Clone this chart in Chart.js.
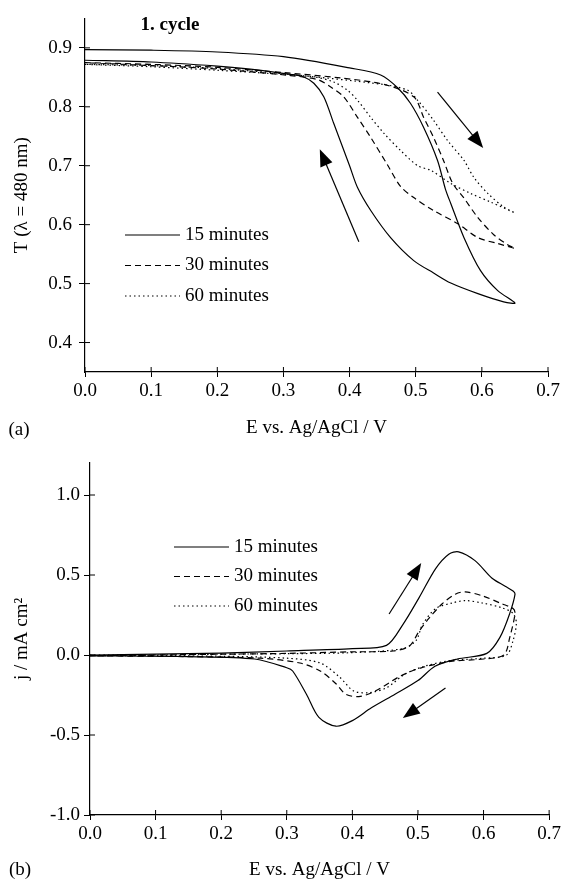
<!DOCTYPE html>
<html>
<head>
<meta charset="utf-8">
<script src="https://cdn.jsdelivr.net/npm/chart.js@4.4.1/dist/chart.umd.min.js"></script>
<style>
html, body { margin: 0; padding: 0; background: #fff; }
#wrap { position: relative; width: 564px; height: 881px; }
canvas { position: absolute; left: 0; }
</style>
</head>
<body>
<div id="wrap">
    <canvas id="chartA" width="564" height="440" style="top:0px"></canvas>
    <canvas id="chartB" width="564" height="441" style="top:440px"></canvas>
</div>
<script>
// ---- data (a): transmission T vs potential E, one loop per series
var seriesNames = ['15 minutes', '30 minutes', '60 minutes'];

var eA15 = [0, 0.1, 0.2, 0.3, 0.4, 0.447, 0.473, 0.492, 0.512, 0.533, 0.545, 0.553, 0.573, 0.598, 0.624, 0.65,
            0.633, 0.594, 0.553, 0.527, 0.497, 0.462, 0.432, 0.412, 0.4, 0.376, 0.361, 0.346, 0.33, 0.311, 0.25, 0.2, 0.1, 0];
var tA15 = [0.897, 0.896, 0.893, 0.885, 0.866, 0.854, 0.832, 0.806, 0.765, 0.709, 0.66, 0.636, 0.578, 0.522, 0.488, 0.467,
            0.469, 0.483, 0.501, 0.518, 0.539, 0.578, 0.624, 0.663, 0.7, 0.772, 0.817, 0.84, 0.851, 0.855, 0.864, 0.869, 0.876, 0.879];

var eA30 = [0, 0.1, 0.2, 0.3, 0.386, 0.452, 0.497, 0.512, 0.527, 0.542, 0.556, 0.573, 0.594, 0.618, 0.639, 0.65,
            0.624, 0.594, 0.563, 0.527, 0.497, 0.477, 0.457, 0.432, 0.412, 0.391, 0.371, 0.352, 0.311, 0.2, 0.1, 0];
var tA30 = [0.875, 0.872, 0.867, 0.858, 0.849, 0.838, 0.817, 0.782, 0.748, 0.709, 0.67, 0.645, 0.612, 0.583, 0.566, 0.56,
            0.568, 0.578, 0.602, 0.624, 0.646, 0.665, 0.702, 0.748, 0.782, 0.817, 0.834, 0.846, 0.853, 0.864, 0.87, 0.875];

var eA60 = [0, 0.1, 0.2, 0.3, 0.45, 0.488, 0.503, 0.527, 0.548, 0.573, 0.588, 0.609, 0.633, 0.65,
            0.614, 0.583, 0.553, 0.523, 0.503, 0.477, 0.452, 0.432, 0.412, 0.397, 0.376, 0.35, 0.3, 0.2, 0.1, 0];
var tA60 = [0.872, 0.87, 0.865, 0.856, 0.838, 0.828, 0.811, 0.777, 0.743, 0.709, 0.68, 0.653, 0.63, 0.62,
            0.638, 0.653, 0.67, 0.692, 0.7, 0.726, 0.755, 0.782, 0.811, 0.828, 0.842, 0.85, 0.855, 0.862, 0.868, 0.872];

var xTicksA = [0, 0.1, 0.2, 0.3, 0.4, 0.5, 0.6, 0.7];
var yTicksA = [0.4, 0.5, 0.6, 0.7, 0.8, 0.9];

// ---- data (b): current density j vs potential E
var eB15 = [0, 0.1, 0.2, 0.3, 0.4, 0.452, 0.477, 0.502, 0.527, 0.547, 0.562, 0.587, 0.613, 0.633, 0.645, 0.648,
            0.64, 0.625, 0.605, 0.56, 0.526, 0.5, 0.465, 0.429, 0.4, 0.375, 0.349, 0.33, 0.309, 0.3, 0.251, 0.15, 0];
var jB15 = [0, 0.005, 0.012, 0.025, 0.04, 0.06, 0.19, 0.36, 0.54, 0.63, 0.645, 0.59, 0.48, 0.43, 0.4, 0.38,
            0.26, 0.11, 0.01, -0.025, -0.07, -0.16, -0.245, -0.33, -0.41, -0.445, -0.39, -0.245, -0.1, -0.08, -0.025, -0.01, -0.005];

var eB30 = [0, 0.1, 0.2, 0.3, 0.4, 0.462, 0.487, 0.502, 0.517, 0.537, 0.557, 0.572, 0.598, 0.628, 0.645, 0.648,
            0.64, 0.631, 0.6, 0.55, 0.505, 0.474, 0.435, 0.41, 0.39, 0.375, 0.351, 0.32, 0.26, 0.15, 0];
var jB30 = [-0.005, 0, 0.005, 0.01, 0.02, 0.025, 0.056, 0.15, 0.23, 0.32, 0.38, 0.395, 0.37, 0.32, 0.29, 0.26,
            0.11, 0, -0.025, -0.04, -0.08, -0.13, -0.225, -0.26, -0.245, -0.18, -0.1, -0.05, -0.02, -0.01, -0.005];

var eB60 = [0, 0.1, 0.2, 0.3, 0.4, 0.477, 0.497, 0.507, 0.527, 0.552, 0.572, 0.598, 0.628, 0.645, 0.65,
            0.645, 0.635, 0.6, 0.55, 0.51, 0.48, 0.452, 0.426, 0.402, 0.381, 0.351, 0.3, 0.2, 0];
var jB60 = [0, 0, 0.005, 0.008, 0.015, 0.04, 0.09, 0.19, 0.29, 0.325, 0.34, 0.325, 0.295, 0.26, 0.2,
            0.09, 0, -0.02, -0.035, -0.07, -0.12, -0.205, -0.235, -0.225, -0.14, -0.05, -0.02, -0.008, -0.003];

var xTicksB = [0, 0.1, 0.2, 0.3, 0.4, 0.5, 0.6, 0.7];
var yTicksB = [-1.0, -0.5, 0.0, 0.5, 1.0];

// scan direction arrows, [E tail, y tail, E head, y head]
var arrowsA = [[0.533, 0.825, 0.602, 0.730], [0.414, 0.571, 0.355, 0.728]];
var arrowsB = [[0.456, 0.256, 0.505, 0.575], [0.542, -0.206, 0.477, -0.394]];

var FONT = '"Liberation Serif", "Times New Roman", serif';
var dashes = [[], [6, 4], [1.5, 3]];

function pairUp(xs, ys) {
    return xs.map(function (x, i) { return { x: x, y: ys[i] }; });
}

function makeDatasets(list) {
    return list.map(function (d, i) {
        return {
            label: seriesNames[i],
            data: pairUp(d[0], d[1]),
            borderColor: '#000',
            borderWidth: 1.2,
            borderDash: dashes[i],
            pointRadius: 0,
            tension: 0.3,
            fill: false
        };
    });
}

// legend drawn as a short line sample plus label
var lineLegend = {
    id: 'lineLegend',
    afterDraw: function (chart, args, opts) {
        var ctx = chart.ctx;
        ctx.save();
        ctx.font = '19px ' + FONT;
        ctx.fillStyle = '#000';
        ctx.textBaseline = 'middle';
        chart.data.datasets.forEach(function (ds, i) {
            var y = opts.y + i * opts.gap;
            ctx.beginPath();
            ctx.setLineDash(ds.borderDash);
            ctx.lineWidth = 1.1;
            ctx.strokeStyle = '#000';
            ctx.moveTo(opts.x, y);
            ctx.lineTo(opts.x + opts.len, y);
            ctx.stroke();
            ctx.setLineDash([]);
            ctx.fillText(ds.label, opts.x + opts.len + 5, y);
        });
        ctx.restore();
    }
};

// arrows, inner tick halves and loose texts
var extras = {
    id: 'extras',
    afterDraw: function (chart, args, opts) {
        var ctx = chart.ctx;
        var xs = chart.scales.x, ys = chart.scales.y;
        ctx.save();
        ctx.strokeStyle = '#000';
        ctx.fillStyle = '#000';
        ctx.lineWidth = 1;
        // tick marks crossing into the plot
        xs.ticks.forEach(function (t) {
            var px = xs.getPixelForValue(t.value);
            ctx.beginPath(); ctx.moveTo(px, xs.top); ctx.lineTo(px, xs.top - 5); ctx.stroke();
        });
        ys.ticks.forEach(function (t) {
            var py = ys.getPixelForValue(t.value);
            ctx.beginPath(); ctx.moveTo(ys.right, py); ctx.lineTo(ys.right + 5, py); ctx.stroke();
        });
        opts.arrows.forEach(function (a) {
            var x1 = xs.getPixelForValue(a[0]), y1 = ys.getPixelForValue(a[1]);
            var x2 = xs.getPixelForValue(a[2]), y2 = ys.getPixelForValue(a[3]);
            var ang = Math.atan2(y2 - y1, x2 - x1);
            var hl = 17, hw = 6.5;
            ctx.lineWidth = 1.2;
            ctx.beginPath();
            ctx.moveTo(x1, y1);
            ctx.lineTo(x2 - Math.cos(ang) * hl * 0.8, y2 - Math.sin(ang) * hl * 0.8);
            ctx.stroke();
            ctx.beginPath();
            ctx.moveTo(x2, y2);
            ctx.lineTo(x2 - Math.cos(ang) * hl - Math.sin(ang) * hw, y2 - Math.sin(ang) * hl + Math.cos(ang) * hw);
            ctx.lineTo(x2 - Math.cos(ang) * hl + Math.sin(ang) * hw, y2 - Math.sin(ang) * hl - Math.cos(ang) * hw);
            ctx.closePath();
            ctx.fill();
        });
        opts.texts.forEach(function (t) {
            ctx.font = t.font;
            ctx.textAlign = 'center';
            ctx.textBaseline = 'middle';
            ctx.fillText(t.text, t.x, t.y);
        });
        ctx.restore();
    }
};

function axisX(ticks, yAxisWidth, xAxisHeight, titlePad) {
    return {
        type: 'linear',
        min: 0,
        max: 0.7,
        afterBuildTicks: function (s) { s.ticks = ticks.map(function (v) { return { value: v }; }); },
        afterFit: function (s) { s.height = xAxisHeight; },
        ticks: {
            color: '#000',
            font: { family: FONT, size: 19 },
            padding: 3,
            maxRotation: 0,
            callback: function (v) { return v.toFixed(1); }
        },
        grid: { drawOnChartArea: false, color: '#000', tickLength: 5, lineWidth: 1 },
        border: { color: '#000', width: 1.2 },
        title: {
            display: true,
            text: 'E vs. Ag/AgCl / V',
            color: '#000',
            font: { family: FONT, size: 19 },
            padding: { top: 0, bottom: titlePad }
        }
    };
}

function axisY(min, max, ticks, width, label, tickPad) {
    return {
        type: 'linear',
        min: min,
        max: max,
        afterBuildTicks: function (s) { s.ticks = ticks.map(function (v) { return { value: v }; }); },
        afterFit: function (s) { s.width = width; },
        ticks: {
            color: '#000',
            font: { family: FONT, size: 19 },
            padding: tickPad,
            callback: function (v) { return v.toFixed(1); }
        },
        grid: { drawOnChartArea: false, color: '#000', tickLength: 6, lineWidth: 1 },
        border: { color: '#000', width: 1.2 },
        title: {
            display: true,
            text: label,
            color: '#000',
            font: { family: FONT, size: 19 },
            padding: { top: 11, bottom: 0 }
        }
    };
}

new Chart(document.getElementById('chartA'), {
    type: 'line',
    data: { datasets: makeDatasets([[eA15, tA15], [eA30, tA30], [eA60, tA60]]) },
    options: {
        responsive: false,
        animation: false,
        layout: { padding: { top: 18, right: 16, left: 0, bottom: 0 } },
        scales: {
            x: axisX(xTicksA, 85, 68, 1),
            y: axisY(0.35, 0.95, yTicksA, 85, 'T (λ = 480 nm)', 7)
        },
        plugins: {
            legend: { display: false },
            tooltip: { enabled: false },
            lineLegend: { x: 125, y: 235, gap: 30.5, len: 55 },
            extras: {
                arrows: arrowsA,
                texts: [
                    { text: '1. cycle', x: 170, y: 25, font: 'bold 19px ' + FONT },
                    { text: '(a)', x: 19, y: 430, font: '19px ' + FONT }
                ]
            }
        }
    },
    plugins: [lineLegend, extras]
});

new Chart(document.getElementById('chartB'), {
    type: 'line',
    data: { datasets: makeDatasets([[eB15, jB15], [eB30, jB30], [eB60, jB60]]) },
    options: {
        responsive: false,
        animation: false,
        layout: { padding: { top: 23, right: 9, left: 0, bottom: 0 } },
        scales: {
            x: axisX(xTicksB, 90, 66, 0),
            y: axisY(-1.0, 1.2, yTicksB, 90, 'j / mA cm²', 4)
        },
        plugins: {
            legend: { display: false },
            tooltip: { enabled: false },
            lineLegend: { x: 174, y: 107, gap: 29.5, len: 55 },
            extras: {
                arrows: arrowsB,
                texts: [
                    { text: '(b)', x: 20, y: 430, font: '19px ' + FONT }
                ]
            }
        }
    },
    plugins: [lineLegend, extras]
});
</script>
</body>
</html>
